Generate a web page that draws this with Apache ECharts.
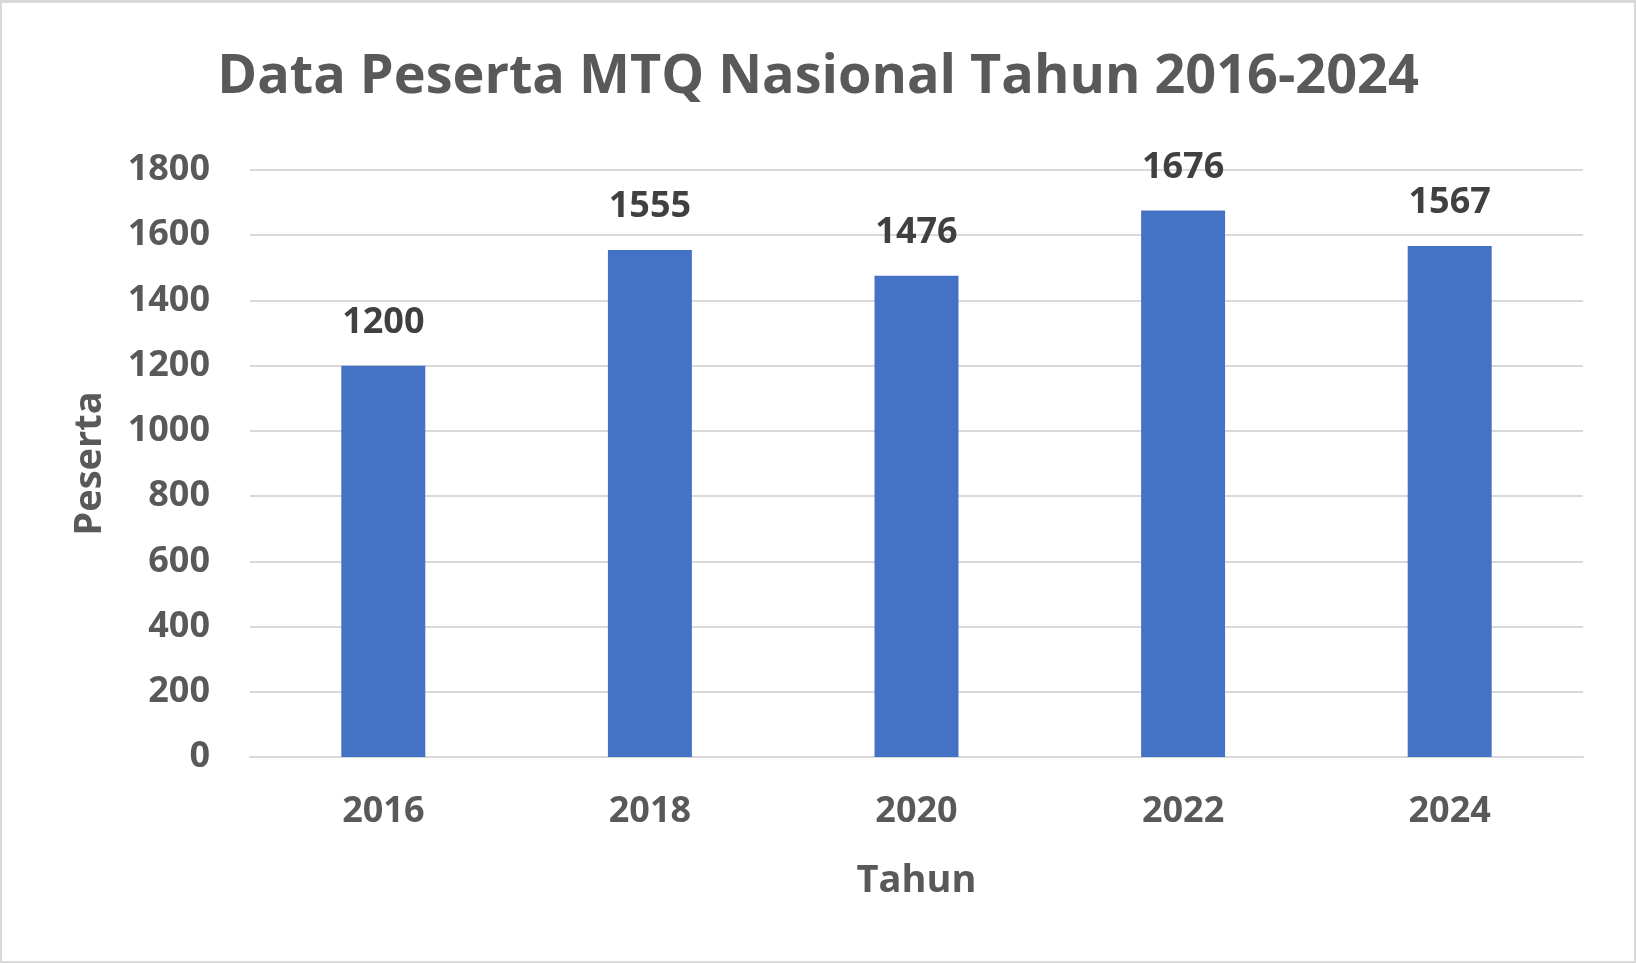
<!DOCTYPE html>
<html>
<head>
<meta charset="utf-8">
<script src="https://cdn.jsdelivr.net/npm/echarts@6/dist/echarts.min.js"></script>
<style>
  html, body { margin: 0; padding: 0; background: #fff; }
  #chart { width: 1636px; height: 963px; }
  .frame {
    position: absolute; left: 0; top: 0; width: 1636px; height: 963px;
    box-sizing: border-box; border: 2px solid #d9d9d9; border-top-width: 3px;
    pointer-events: none;
  }
</style>
</head>
<body>
<div id="chart"></div>
<div class="frame"></div>
<script>
// data
const years = ['2016', '2018', '2020', '2022', '2024']
const peserta = [1200, 1555, 1476, 1676, 1567]

const font = '"Open Sans", "Liberation Sans", sans-serif'

const chart = echarts.init(document.getElementById('chart'))
const option = {
  backgroundColor: '#fff',
  textStyle: { fontFamily: font },
  title: {
    text: 'Data Peserta MTQ Nasional Tahun 2016-2024',
    left: 'center',
    top: 46,
    textStyle: { fontFamily: font, fontSize: 54, fontWeight: 'bold', color: '#595959' },
  },
  grid: {
    left: 250,
    right: 53,
    top: 170,
    bottom: 206,
  },
  xAxis: {
    type: 'category',
    data: years,
    name: 'Tahun',
    nameLocation: 'middle',
    nameGap: 105,
    nameTextStyle: { fontFamily: font, fontSize: 38, fontWeight: 'bold', color: '#595959' },
    axisTick: { show: false },
    axisLine: { lineStyle: { color: '#d9d9d9', width: 2 } },
    axisLabel: { margin: 37, fontFamily: font, fontSize: 36, fontWeight: 'bold', color: '#595959' },
  },
  yAxis: {
    type: 'value',
    min: 0,
    max: 1800,
    interval: 200,
    name: 'Peserta',
    nameLocation: 'middle',
    nameGap: 141,
    nameTextStyle: { fontFamily: font, fontSize: 38, fontWeight: 'bold', color: '#595959' },
    axisLabel: {
      margin: 40,
      fontFamily: font,
      fontSize: 36,
      fontWeight: 'bold',
      color: '#595959',
      formatter: (v) => String(v),
    },
    splitLine: { lineStyle: { color: '#d9d9d9', width: 2 } },
  },
  series: [
    {
      type: 'bar',
      data: peserta,
      barWidth: '31.5%',
      itemStyle: { color: '#4472C4' },
      label: {
        show: true,
        position: 'top',
        distance: 25,
        fontFamily: font,
        fontSize: 36,
        fontWeight: 'bold',
        color: '#404040',
      },
    },
  ],
}
chart.setOption(option)
</script>
</body>
</html>
